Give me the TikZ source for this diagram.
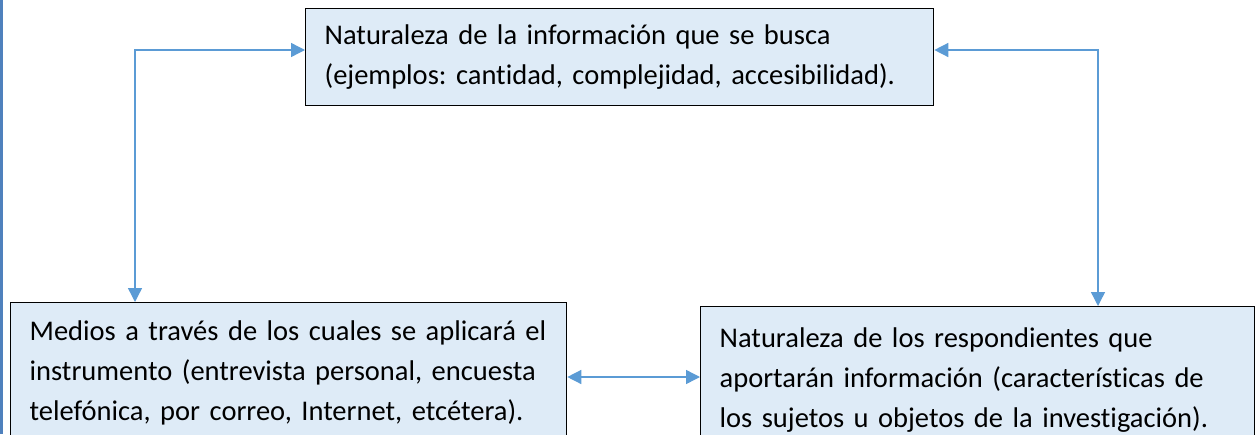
\documentclass[tikz,border=0pt]{standalone}
\usepackage{fontspec}
\setmainfont{Carlito}[Ligatures=NoCommon]
\usetikzlibrary{calc,arrows.meta}
\definecolor{fondo}{RGB}{222,235,247}
\definecolor{azul}{RGB}{91,155,213}
\definecolor{borde}{RGB}{79,129,189}
\tikzset{
caja/.style={draw=black, line width=1.3pt, fill=fondo, anchor=north west,
  align=left, inner xsep=19pt, font=\fontsize{28.5}{40}\selectfont\frenchspacing},
flecha/.style={draw=azul, line width=1.4pt, {Triangle[length=14pt,width=14pt]}-{Triangle[length=14pt,width=14pt]}}
}
\begin{document}
\begin{tikzpicture}[x=1pt,y=-1pt]

            \useasboundingbox (0,0) rectangle (1258,434);
            \clip (0,0) rectangle (1258,434);
            \draw[borde, line width=2.5pt] (1.5,0) -- (1.5,434);

            \node[caja, text width=590pt, minimum width=628pt, minimum height=97pt] (info)
            at (305,8) {Naturaleza de la información que se busca\\(ejemplos: cantidad, complejidad, accesibilidad).};
            \node[caja, text width=518pt, minimum width=556pt, minimum height=140pt] (medios)
            at (10,302) {Medios a través de los cuales se aplicará el\\instrumento (entrevista personal, encuesta\\telefónica, por correo, Internet, etcétera).};
            \node[caja, text width=516pt, minimum width=554pt, minimum height=146pt] (resp)
            at (700,306) {Naturaleza de los respondientes que\\aportarán información (características de\\los sujetos u objetos de la investigación).};

            \coordinate (codoL) at (135,50);
            \coordinate (codoR) at (1098,50);
            \coordinate (medio) at (0,377);
            \draw[flecha] (medios.north -| codoL) |- (info.west |- codoL);
            \draw[flecha] (info.east |- codoR) -| (resp.north -| codoR);
            \draw[flecha] (medios.east |- medio) -- (resp.west |- medio);

        \end{tikzpicture}
\end{document}
